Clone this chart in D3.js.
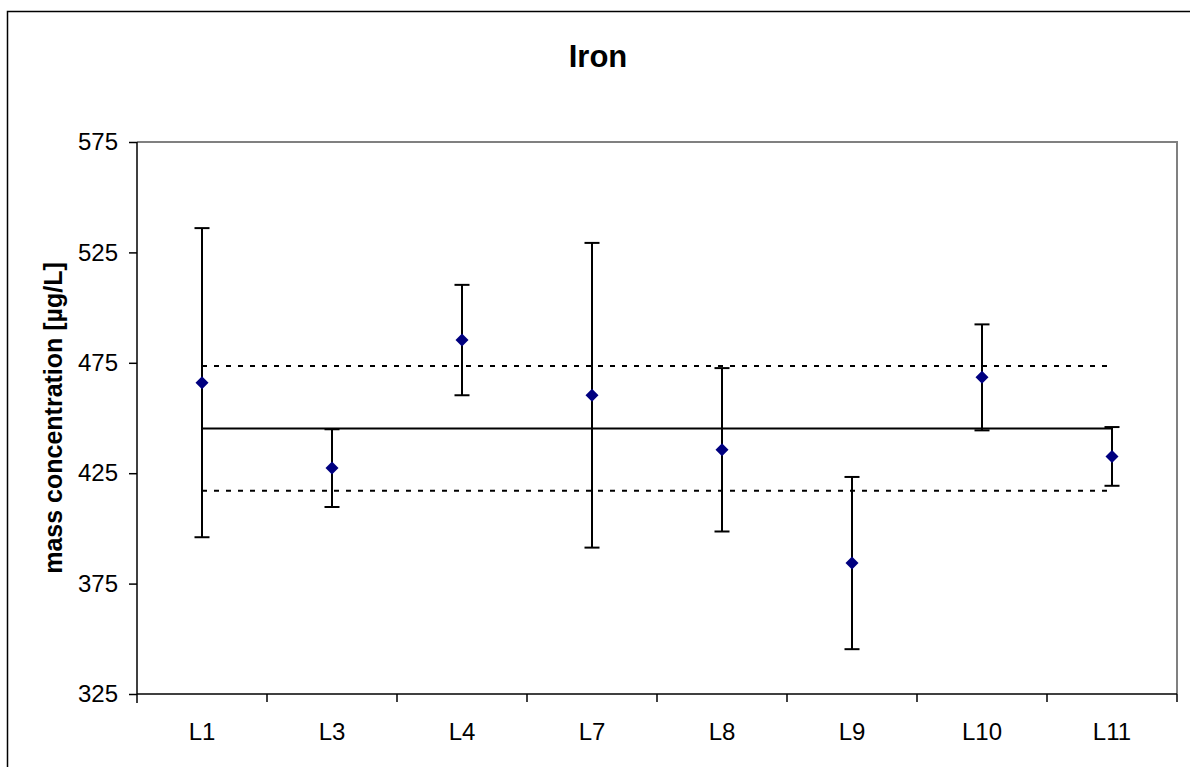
<!DOCTYPE html>
<html>
<head>
<meta charset="utf-8">
<script src="https://cdn.jsdelivr.net/npm/d3@7"></script>
<style>
  body { margin: 0; background: #fff; }
  text { font-family: "Liberation Sans", Arial, sans-serif; }
</style>
</head>
<body>
<div id="chart"></div>
<script>
// lab results for iron
const labs = ["L1", "L3", "L4", "L7", "L8", "L9", "L10", "L11"];
const means = [466, 427.3, 485.3, 460.3, 435.6, 384.3, 468.4, 432.6];
const errs = [70, 17.6, 25, 69, 37, 39, 24, 13.3];
const refValue = 445.3;
const refBand = 28.2;
const yTicks = [325, 375, 425, 475, 525, 575];

const W = 1190, H = 767;
const margin = { top: 142, right: 13, bottom: 73, left: 137 };
const width = W - margin.left - margin.right;
const height = H - margin.top - margin.bottom;

const svg = d3.select("#chart").append("svg")
    .attr("width", W)
    .attr("height", H);

// chart area border (right/bottom fall off the picture)
svg.append("rect")
    .attr("x", 7.5).attr("y", 11.5)
    .attr("width", W + 20).attr("height", H + 20)
    .attr("fill", "none")
    .attr("stroke", "#000")
    .attr("stroke-width", 1.5);

svg.append("text")
    .attr("x", 598).attr("y", 67)
    .attr("text-anchor", "middle")
    .style("font-weight", "bold")
    .style("font-size", "31px")
    .text("Iron");

const g = svg.append("g")
    .attr("transform", `translate(${margin.left},${margin.top})`);

const x = d3.scaleBand()
    .domain(labs)
    .range([0, width]);

const y = d3.scaleLinear()
    .domain([325, 575])
    .range([height, 0]);

// plot area frame: top and right in grey
g.append("path")
    .attr("d", `M0,0H${width}V${height}`)
    .attr("fill", "none")
    .attr("stroke", "#808080")
    .attr("stroke-width", 2);

const cx = d => x(d) + x.bandwidth() / 2;
const x0 = cx(labs[0]), x1 = cx(labs[labs.length - 1]);

// reference value and its band
g.append("line")
    .attr("x1", x0).attr("x2", x1)
    .attr("y1", y(refValue)).attr("y2", y(refValue))
    .attr("stroke", "#000").attr("stroke-width", 2);

g.selectAll(".band")
    .data([refValue + refBand, refValue - refBand])
    .enter().append("line")
    .attr("class", "band")
    .attr("x1", x0).attr("x2", x1)
    .attr("y1", d => y(d)).attr("y2", d => y(d))
    .attr("stroke", "#000").attr("stroke-width", 2)
    .attr("stroke-dasharray", "5,7");

// error bars
const bars = g.selectAll(".err")
    .data(labs)
    .enter().append("g")
    .attr("class", "err")
    .attr("stroke", "#000")
    .attr("stroke-width", 2);

bars.append("line")
    .attr("x1", d => cx(d)).attr("x2", d => cx(d))
    .attr("y1", (d, i) => y(means[i] + errs[i]))
    .attr("y2", (d, i) => y(means[i] - errs[i]));

bars.append("line")
    .attr("x1", d => cx(d) - 7.5).attr("x2", d => cx(d) + 7.5)
    .attr("y1", (d, i) => y(means[i] + errs[i]))
    .attr("y2", (d, i) => y(means[i] + errs[i]));

bars.append("line")
    .attr("x1", d => cx(d) - 7.5).attr("x2", d => cx(d) + 7.5)
    .attr("y1", (d, i) => y(means[i] - errs[i]))
    .attr("y2", (d, i) => y(means[i] - errs[i]));

// diamonds
g.selectAll(".pt")
    .data(labs)
    .enter().append("path")
    .attr("class", "pt")
    .attr("transform", (d, i) => `translate(${cx(d)},${y(means[i])})`)
    .attr("d", "M0,-6.5L6.5,0L0,6.5L-6.5,0Z")
    .attr("fill", "#000080");

// y axis
g.append("g")
    .call(d3.axisLeft(y).tickValues(yTicks).tickSize(8).tickPadding(11))
    .call(a => a.select(".domain").attr("stroke-width", 1.5).attr("d", `M0,0V${height + 9}`))
    .call(a => a.selectAll(".tick line").attr("stroke-width", 1.5))
    .call(a => a.selectAll("text").style("font-size", "24px").attr("fill", "#000"));

// x axis, ticks sit between categories
const xa = g.append("g")
    .attr("transform", `translate(0,${height})`);
xa.append("line")
    .attr("x1", 0).attr("x2", width)
    .attr("stroke", "#000").attr("stroke-width", 1.5);
xa.selectAll(".xt")
    .data(labs.slice(1).concat(["end"]))
    .enter().append("line")
    .attr("class", "xt")
    .attr("x1", (d, i) => x(labs[i]) + x.bandwidth())
    .attr("x2", (d, i) => x(labs[i]) + x.bandwidth())
    .attr("y1", 0).attr("y2", 8)
    .attr("stroke", "#000").attr("stroke-width", 1.5);
xa.selectAll(".xl")
    .data(labs)
    .enter().append("text")
    .attr("class", "xl")
    .attr("x", d => cx(d))
    .attr("y", 46)
    .attr("text-anchor", "middle")
    .style("font-size", "24px")
    .text(d => d);

svg.append("text")
    .attr("transform", `translate(62,${margin.top + height / 2}) rotate(-90)`)
    .attr("text-anchor", "middle")
    .style("font-weight", "bold")
    .style("font-size", "25px")
    .text("mass concentration [µg/L]");
</script>
</body>
</html>
